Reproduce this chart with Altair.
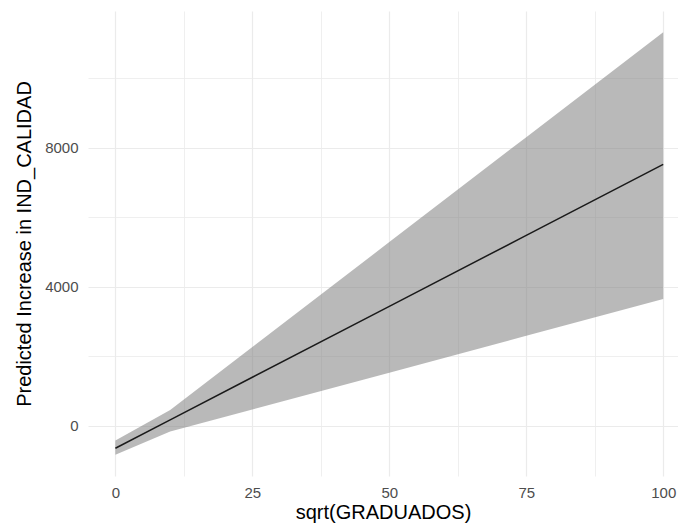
import altair as alt
import pandas as pd

# values
x_vals = [0, 10, 25, 50, 75, 100]
pred = [-650, 167, 1393, 3436, 5479, 7522]
upper = [-430, 450, 2263, 5285, 8308, 11330]
lower = [-840, -170, 466, 1526, 2586, 3646]

x_ticks = [0, 12.5, 25, 37.5, 50, 62.5, 75, 87.5, 100]
y_ticks = [0, 2000, 4000, 6000, 8000, 10000]

df = pd.DataFrame({"x": x_vals, "fit": pred, "lo": lower, "hi": upper})

font = "Liberation Sans"

x_scale = alt.Scale(domain=[-5, 102.7], nice=False, zero=False)
y_scale = alt.Scale(domain=[-1450, 11940], nice=False, zero=False)

x_axis = alt.Axis(
    title="sqrt(GRADUADOS)",
    values=x_ticks,
    labelExpr="datum.value % 25 == 0 ? datum.label : ''",
    domain=False, ticks=False,
    grid=True, gridColor="#EBEBEB",
    gridWidth={"condition": {"test": "datum.value % 25 == 0", "value": 1.2}, "value": 0.8},
    labelFont=font, labelFontSize=15, labelColor="#4D4D4D",
    labelPadding=9, labelBaseline="top",
    titleFont=font, titleFontSize=20, titleFontWeight="normal", titleColor="#000000",
    titleBaseline="alphabetic", titleY=42,
)
y_axis = alt.Axis(
    title="Predicted Increase in IND_CALIDAD",
    values=y_ticks,
    labelExpr="datum.value % 4000 == 0 ? datum.label : ''",
    format="d",
    domain=False, ticks=False,
    grid=True, gridColor="#EBEBEB",
    gridWidth={"condition": {"test": "datum.value % 4000 == 0", "value": 1.2}, "value": 0.8},
    labelFont=font, labelFontSize=15, labelColor="#4D4D4D",
    labelPadding=10,
    titleFont=font, titleFontSize=20, titleFontWeight="normal", titleColor="#000000",
    titleBaseline="middle", titleX=-64, titleAngle=270,
)

base = alt.Chart(df)

band = base.mark_area(color="#7F7F7F", opacity=0.55).encode(
    x=alt.X("x:Q", scale=x_scale, axis=x_axis),
    y=alt.Y("lo:Q", scale=y_scale, axis=y_axis),
    y2="hi:Q",
)

line = base.mark_line(color="#1A1A1A", strokeWidth=1.5).encode(
    x=alt.X("x:Q", scale=x_scale),
    y=alt.Y("fit:Q", scale=y_scale),
)

chart = (
    alt.layer(band, line)
    .properties(
        width=590, height=465,
        autosize=alt.AutoSizeParams(type="none"),
        padding={"left": 88, "top": 11, "right": 0, "bottom": 55},
        background="white",
    )
    .configure_view(stroke=None)
)

chart.save("out.html", embed_options={"renderer": "svg", "actions": False})
